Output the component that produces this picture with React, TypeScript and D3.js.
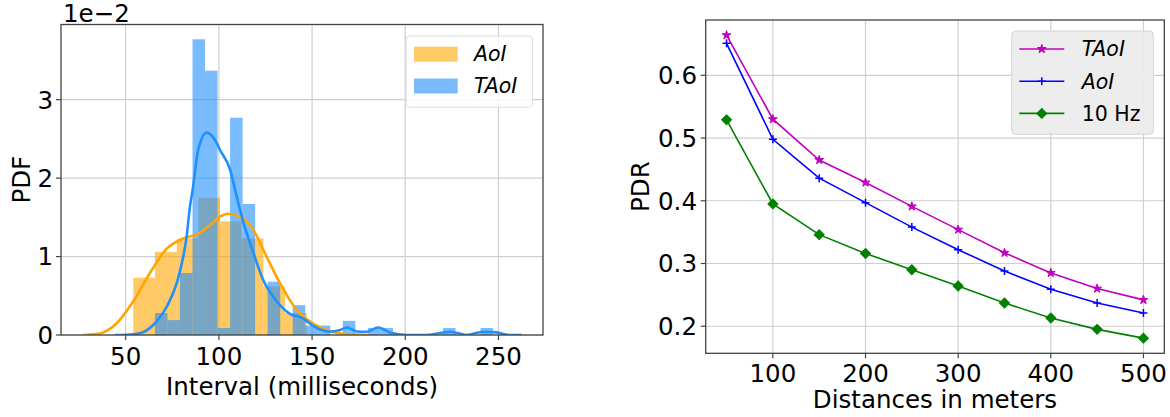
import React from "react";
import * as d3 from "d3";

const W = 1170;
const H = 417;
const FONT = "DejaVu Sans, Verdana, sans-serif";
const TICK_FS = 24.5;
const LEGEND_FS = 20.5;

// ---- Interval histograms (density, in units of 1e-2) ----
const aoiBinStart = 54.1;
const aoiBinWidth = 11.63;
const aoiDensity = [0.73, 1.06, 1.23, 1.75, 1.45, 1.23, 0.62, 0.28];

const taoiBinStart = 65.7;
const taoiBinWidth = 6.72;
const taoiDensity = [
  0.28, 0.19, 0.79, 3.77, 3.37, 0.09, 2.77, 1.67, 0, 0.68, 0, 0.38, 0.12, 0.12,
  0, 0.18, 0, 0.09, 0.09, 0, 0, 0, 0, 0.09, 0, 0, 0.09,
];

// ---- Kernel density estimates (x in ms, y in 1e-2) ----
const aoiKdeX = [27, 30.8, 36.2, 45.2, 54.1, 63.0, 72.0, 80.9, 89.9, 95.2, 100.6, 105.0, 111.2, 118.5, 125.6, 132.8, 139.9, 148.9, 157.8, 167.6, 181.1];
const aoiKdeY = [0.0, 0.006, 0.02, 0.15, 0.43, 0.79, 1.1, 1.23, 1.3, 1.4, 1.51, 1.545, 1.51, 1.34, 1.0, 0.66, 0.38, 0.17, 0.064, 0.013, 0.0];

const taoiKdeX = [44.3, 50.5, 57.7, 64.8, 72.0, 77.4, 80.9, 82.7, 84.5, 85.8, 88.9, 93.5, 98.8, 100.6, 106.0, 109.5, 113.1, 118.5, 123.8, 131.0, 138.1, 145.3, 150.6, 159.6, 165.0, 168.7, 173.9, 179.3, 185.5, 191.8, 200.8, 211.5, 224.0, 233.0, 241.8, 249.0, 256.2, 262.4];
const taoiKdeY = [0.0, 0.003, 0.022, 0.128, 0.36, 0.66, 1.0, 1.255, 1.64, 1.83, 2.36, 2.58, 2.45, 2.36, 2.11, 1.77, 1.44, 1.05, 0.7, 0.43, 0.27, 0.21, 0.115, 0.042, 0.064, 0.096, 0.045, 0.042, 0.096, 0.032, 0.0, 0.0, 0.042, 0.0, 0.042, 0.034, 0.0, 0.0];

const intervalTicks = [50, 100, 150, 200, 250];
const pdfTicks = [0, 1, 2, 3];

// ---- Packet delivery ratio vs distance ----
const distances = [50, 100, 150, 200, 250, 300, 350, 400, 450, 500];
const pdrTAoI = [0.664, 0.53, 0.465, 0.429, 0.391, 0.354, 0.317, 0.285, 0.26, 0.242];
const pdrAoI = [0.651, 0.498, 0.436, 0.397, 0.358, 0.322, 0.288, 0.259, 0.237, 0.221];
const pdr10Hz = [0.529, 0.395, 0.346, 0.316, 0.29, 0.264, 0.237, 0.213, 0.195, 0.181];
const distanceTicks = [100, 200, 300, 400, 500];
const pdrTicks = [0.2, 0.3, 0.4, 0.5, 0.6];

const ORANGE = "#ffa500";
const BLUE = "#1e90ff";
const GRID = "#cfcfcf";
const SPINE = "#444444";

function HistogramPanel() {
  const left = 61, right = 543, top = 24.5, bottom = 335;
  const x = d3.scaleLinear().domain([15.3, 273.9]).range([left, right]);
  const yMax = (d3.max(taoiDensity) as number) * 1.05;
  const y = d3.scaleLinear().domain([0, yMax]).range([bottom, top]);

  const aoiBins = aoiDensity.map((v, i) => ({ x0: aoiBinStart + i * aoiBinWidth, x1: aoiBinStart + (i + 1) * aoiBinWidth, v }));
  const taoiBins = taoiDensity.map((v, i) => ({ x0: taoiBinStart + i * taoiBinWidth, x1: taoiBinStart + (i + 1) * taoiBinWidth, v }));

  const line = d3
    .line<[number, number]>()
    .x((d) => x(d[0]))
    .y((d) => y(d[1]))
    .curve(d3.curveMonotoneX);
  const aoiPath = line(aoiKdeX.map((v, i) => [v, aoiKdeY[i]]) as [number, number][]) || "";
  const taoiPath = line(taoiKdeX.map((v, i) => [v, taoiKdeY[i]]) as [number, number][]) || "";

  return (
    <g>
      <defs>
        <clipPath id="histClip">
          <rect x={left} y={top} width={right - left} height={bottom - top} />
        </clipPath>
      </defs>
      {/* grid */}
      {intervalTicks.map((t) => (
        <line key={"gx" + t} x1={x(t)} x2={x(t)} y1={top} y2={bottom} stroke={GRID} strokeWidth={1.2} />
      ))}
      {pdfTicks.map((t) => (
        <line key={"gy" + t} x1={left} x2={right} y1={y(t)} y2={y(t)} stroke={GRID} strokeWidth={1.2} />
      ))}
      <g clipPath="url(#histClip)">
        {aoiBins.filter((b) => b.v > 0).map((b, i) => (
          <rect key={"a" + i} x={x(b.x0)} y={y(b.v)} width={x(b.x1) - x(b.x0)} height={y(0) - y(b.v)} fill={ORANGE} fillOpacity={0.6} />
        ))}
        {taoiBins.filter((b) => b.v > 0).map((b, i) => (
          <rect key={"t" + i} x={x(b.x0)} y={y(b.v)} width={x(b.x1) - x(b.x0)} height={y(0) - y(b.v)} fill={BLUE} fillOpacity={0.6} />
        ))}
        <path d={aoiPath} fill="none" stroke={ORANGE} strokeWidth={2.6} />
        <path d={taoiPath} fill="none" stroke={BLUE} strokeWidth={2.6} />
      </g>
      {/* frame */}
      <rect x={left} y={top} width={right - left} height={bottom - top} fill="none" stroke={SPINE} strokeWidth={1.3} />
      {/* x ticks */}
      {intervalTicks.map((t) => (
        <g key={"xt" + t}>
          <line x1={x(t)} x2={x(t)} y1={bottom} y2={bottom + 5} stroke={SPINE} strokeWidth={1.2} />
          <text x={x(t)} y={365} textAnchor="middle" fontSize={TICK_FS} fontFamily={FONT} fill="#000">
            {t}
          </text>
        </g>
      ))}
      {/* y ticks */}
      {pdfTicks.map((t) => (
        <g key={"yt" + t}>
          <line x1={left - 5} x2={left} y1={y(t)} y2={y(t)} stroke={SPINE} strokeWidth={1.2} />
          <text x={53} y={y(t) + 0.3645 * TICK_FS} textAnchor="end" fontSize={TICK_FS} fontFamily={FONT} fill="#000">
            {t}
          </text>
        </g>
      ))}
      <text x={63} y={21.5} fontSize={TICK_FS} fontFamily={FONT} fill="#000">
        1e−2
      </text>
      <text x={(left + right) / 2} y={394.5} textAnchor="middle" fontSize={TICK_FS} fontFamily={FONT} fill="#000">
        Interval (milliseconds)
      </text>
      <text transform={`translate(30,${(top + bottom) / 2}) rotate(-90)`} textAnchor="middle" fontSize={TICK_FS} fontFamily={FONT} fill="#000">
        PDF
      </text>
      {/* legend */}
      <rect x={406} y={36} width={126.7} height={71.3} rx={4} fill="#ffffff" fillOpacity={0.8} stroke="#dcdcdc" strokeWidth={1} />
      <rect x={414} y={46.7} width={43.7} height={15} fill={ORANGE} fillOpacity={0.6} />
      <rect x={414} y={78.5} width={43.7} height={15} fill={BLUE} fillOpacity={0.6} />
      <text x={474} y={61} fontSize={LEGEND_FS} fontFamily={FONT} fontStyle="italic" fill="#000">
        AoI
      </text>
      <text x={474} y={92.7} fontSize={LEGEND_FS} fontFamily={FONT} fontStyle="italic" fill="#000">
        TAoI
      </text>
    </g>
  );
}

const starPath = d3.symbol(d3.symbolStar, 24)() || "";
const diamondPath = d3.symbol(d3.symbolSquare, 50)() || "";

function Marker({ kind, color, cx, cy }: { kind: string; color: string; cx: number; cy: number }) {
  if (kind === "star") {
    return <path d={starPath} transform={`translate(${cx},${cy})`} fill={color} stroke={color} strokeWidth={1} />;
  }
  if (kind === "plus") {
    return <path d="M-4,0H4M0,-4V4" transform={`translate(${cx},${cy})`} fill="none" stroke={color} strokeWidth={1.5} />;
  }
  return <path d={diamondPath} transform={`translate(${cx},${cy}) rotate(45)`} fill={color} stroke={color} strokeWidth={1} />;
}

function PdrPanel() {
  const left = 705.7, right = 1164.3, top = 20, bottom = 353.3;
  const [dMin, dMax] = d3.extent(distances) as [number, number];
  const dPad = (dMax - dMin) * 0.05;
  const x = d3.scaleLinear().domain([dMin - dPad, dMax + dPad]).range([left, right]);
  const all = [...pdrTAoI, ...pdrAoI, ...pdr10Hz];
  const [vMin, vMax] = d3.extent(all) as [number, number];
  const vPad = (vMax - vMin) * 0.05;
  const y = d3.scaleLinear().domain([vMin - vPad, vMax + vPad]).range([bottom, top]);

  const series = [
    { name: "TAoI", values: pdrTAoI, color: "#bf00bf", marker: "star", italic: true },
    { name: "AoI", values: pdrAoI, color: "#0000ff", marker: "plus", italic: true },
    { name: "10 Hz", values: pdr10Hz, color: "#008000", marker: "diamond", italic: false },
  ];
  const line = d3
    .line<number>()
    .x((_, i) => x(distances[i]))
    .y((d) => y(d));

  return (
    <g>
      {distanceTicks.map((t) => (
        <line key={"gx" + t} x1={x(t)} x2={x(t)} y1={top} y2={bottom} stroke={GRID} strokeWidth={1.2} />
      ))}
      {pdrTicks.map((t) => (
        <line key={"gy" + t} x1={left} x2={right} y1={y(t)} y2={y(t)} stroke={GRID} strokeWidth={1.2} />
      ))}
      {series.map((s) => (
        <g key={s.name}>
          <path d={line(s.values) || ""} fill="none" stroke={s.color} strokeWidth={1.6} />
          {s.values.map((v, i) => (
            <Marker key={i} kind={s.marker} color={s.color} cx={x(distances[i])} cy={y(v)} />
          ))}
        </g>
      ))}
      <rect x={left} y={top} width={right - left} height={bottom - top} fill="none" stroke={SPINE} strokeWidth={1.3} />
      {distanceTicks.map((t) => (
        <g key={"xt" + t}>
          <line x1={x(t)} x2={x(t)} y1={bottom} y2={bottom + 5} stroke={SPINE} strokeWidth={1.2} />
          <text x={x(t)} y={381.7} textAnchor="middle" fontSize={TICK_FS} fontFamily={FONT} fill="#000">
            {t}
          </text>
        </g>
      ))}
      {pdrTicks.map((t) => (
        <g key={"yt" + t}>
          <line x1={left - 5} x2={left} y1={y(t)} y2={y(t)} stroke={SPINE} strokeWidth={1.2} />
          <text x={697} y={y(t) + 0.3645 * TICK_FS} textAnchor="end" fontSize={TICK_FS} fontFamily={FONT} fill="#000">
            {t.toFixed(1)}
          </text>
        </g>
      ))}
      <text x={(left + right) / 2} y={408} textAnchor="middle" fontSize={TICK_FS} fontFamily={FONT} fill="#000">
        Distances in meters
      </text>
      <text transform={`translate(649,${(top + bottom) / 2}) rotate(-90)`} textAnchor="middle" fontSize={TICK_FS} fontFamily={FONT} fill="#000">
        PDR
      </text>
      {/* legend */}
      <rect x={1011.7} y={31} width={141.6} height={103.3} rx={4} fill="#ebebeb" fillOpacity={0.9} stroke="#d6d6d6" strokeWidth={1} />
      {series.map((s, i) => {
        const ly = 49 + i * 32.2;
        return (
          <g key={"lg" + s.name}>
            <line x1={1019.3} x2={1064.3} y1={ly} y2={ly} stroke={s.color} strokeWidth={1.6} />
            <Marker kind={s.marker} color={s.color} cx={1041.8} cy={ly} />
            <text x={1081.7} y={ly + 0.3645 * LEGEND_FS} fontSize={LEGEND_FS} fontFamily={FONT} fontStyle={s.italic ? "italic" : "normal"} fill="#000">
              {s.name}
            </text>
          </g>
        );
      })}
    </g>
  );
}

export default function App() {
  return (
    <div style={{ position: "absolute", left: 0, top: 0, width: W, height: H, background: "#fff" }}>
      <svg width={W} height={H} viewBox={`0 0 ${W} ${H}`} style={{ display: "block" }}>
        <rect x={0} y={0} width={W} height={H} fill="#ffffff" />
        <HistogramPanel />
        <PdrPanel />
      </svg>
    </div>
  );
}
